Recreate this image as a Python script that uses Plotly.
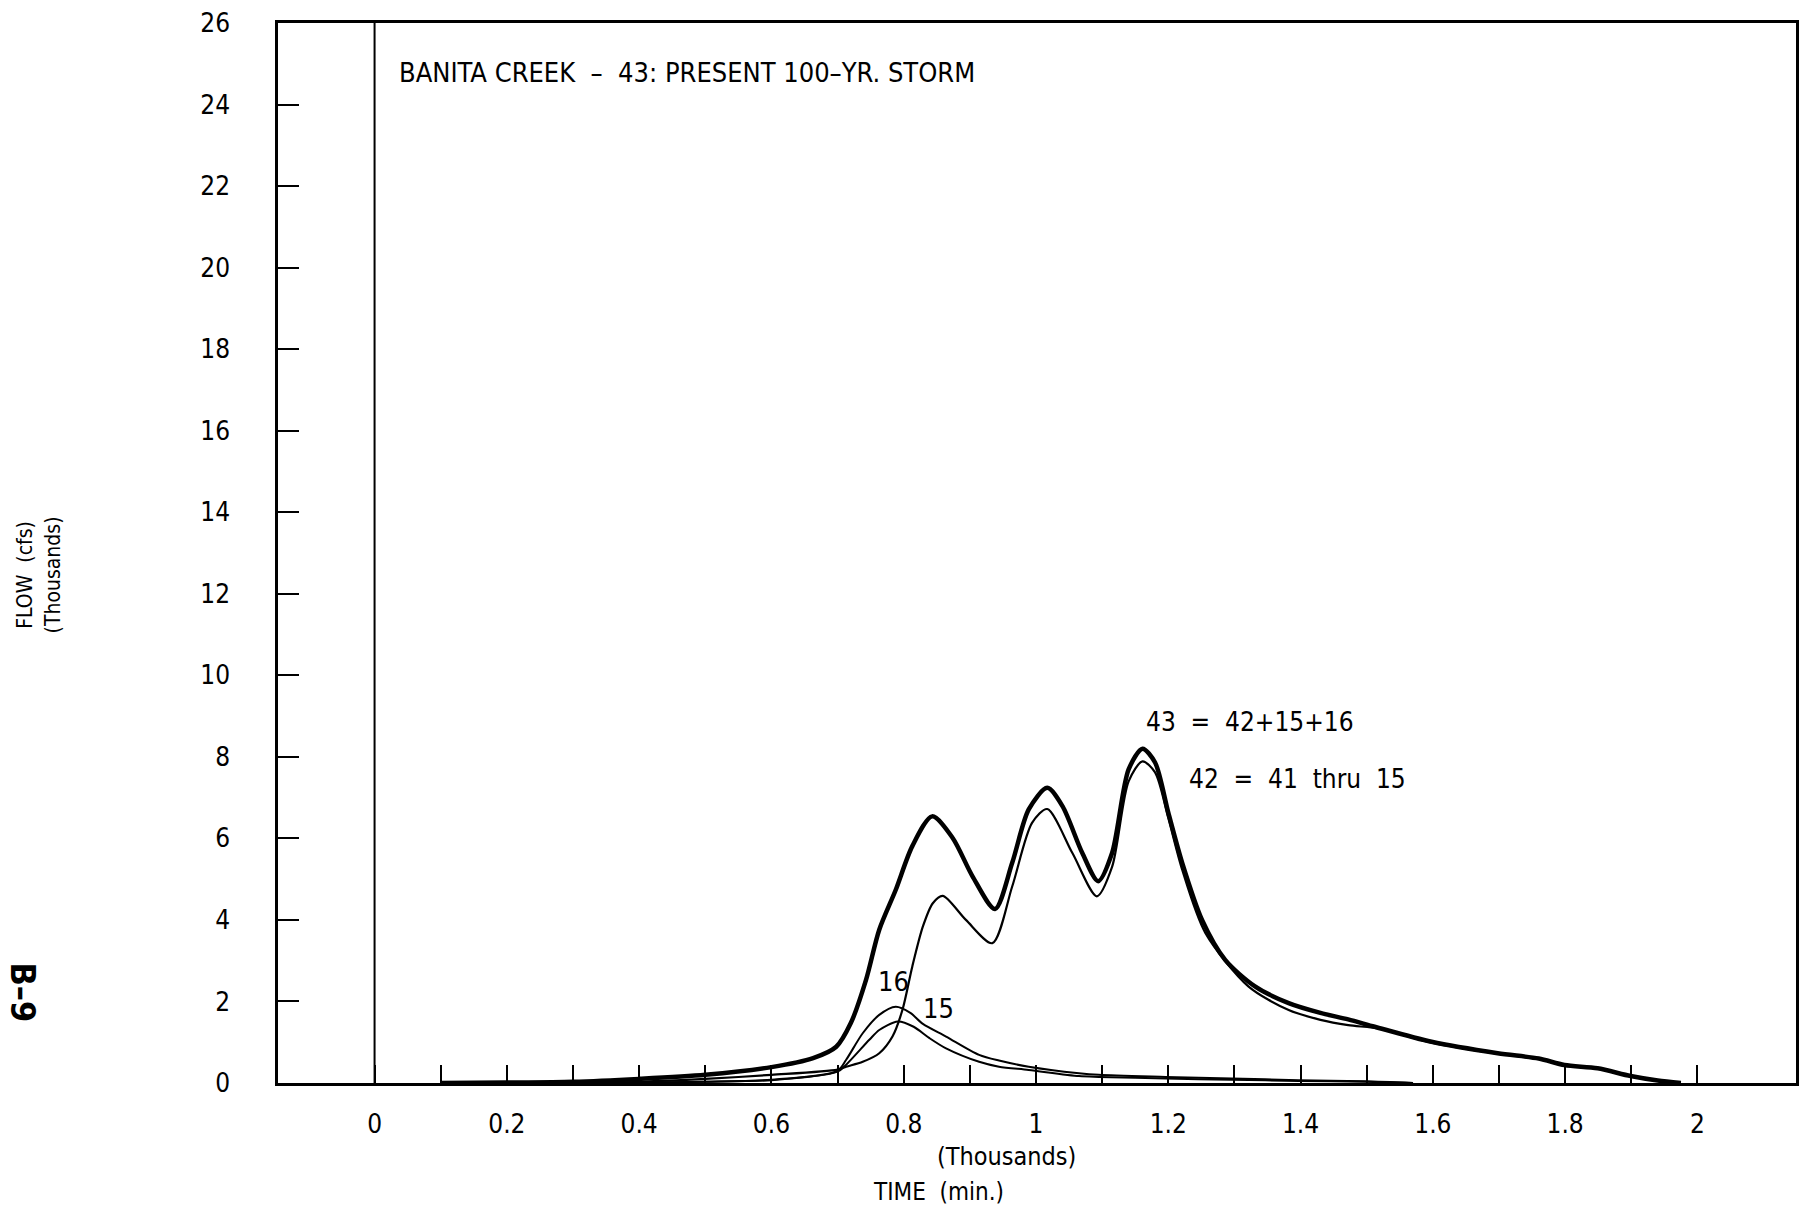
import plotly.graph_objects as go

# ---- data (time in thousands of minutes, flow in thousands of cfs) ----
t43 = [0.10, 0.20, 0.30, 0.40, 0.50, 0.60, 0.663, 0.698, 0.72, 0.743, 0.763, 0.788, 0.813, 0.843,
       0.874, 0.904, 0.938, 0.964, 0.989, 1.017, 1.040, 1.070, 1.094, 1.115, 1.140, 1.161, 1.180,
       1.200, 1.221, 1.251, 1.286, 1.331, 1.382, 1.430, 1.472, 1.512, 1.598, 1.698, 1.760, 1.799,
       1.849, 1.899, 1.940, 1.975]
q43 = [0.0, 0.01, 0.03, 0.10, 0.20, 0.39, 0.61, 0.89, 1.47, 2.53, 3.76, 4.74, 5.81, 6.54,
       6.01, 5.07, 4.27, 5.40, 6.71, 7.24, 6.79, 5.64, 4.95, 5.64, 7.69, 8.20, 7.86,
       6.63, 5.40, 4.00, 3.02, 2.37, 1.96, 1.72, 1.56, 1.38, 1.01, 0.73, 0.60, 0.44,
       0.36, 0.17, 0.06, 0.0]

t42 = [0.30, 0.40, 0.50, 0.60, 0.70, 0.713, 0.738, 0.763, 0.783, 0.798, 0.813, 0.829, 0.844, 0.859,
       0.894, 0.934, 0.964, 0.994, 1.017, 1.055, 1.092, 1.115, 1.140, 1.161, 1.180, 1.200, 1.221,
       1.256, 1.321, 1.382, 1.430, 1.472, 1.520, 1.598, 1.698, 1.760, 1.799, 1.849, 1.899, 1.940, 1.975]
q42 = [0.0, 0.03, 0.10, 0.20, 0.33, 0.40, 0.52, 0.73, 1.14, 1.79, 2.86, 3.84, 4.41, 4.59,
       4.00, 3.43, 4.82, 6.38, 6.72, 5.64, 4.58, 5.30, 7.40, 7.89, 7.62, 6.50, 5.23,
       3.68, 2.37, 1.79, 1.55, 1.42, 1.33, 0.99, 0.72, 0.59, 0.43, 0.35, 0.16, 0.05, 0.0]

t16 = [0.30, 0.40, 0.50, 0.60, 0.70, 0.713, 0.738, 0.763, 0.788, 0.810, 0.829, 0.864, 0.914,
       0.944, 0.989, 1.065, 1.095, 1.196, 1.296, 1.397, 1.497, 1.570]
q16 = [0.0, 0.01, 0.03, 0.08, 0.30, 0.57, 1.22, 1.67, 1.87, 1.72, 1.45, 1.14, 0.69,
       0.55, 0.40, 0.24, 0.20, 0.15, 0.11, 0.07, 0.04, 0.0]

t15 = [0.30, 0.40, 0.50, 0.60, 0.70, 0.713, 0.748, 0.763, 0.791, 0.815, 0.839, 0.864, 0.914,
       0.944, 0.989, 1.065, 1.095, 1.196, 1.296, 1.397, 1.497, 1.570]
q15 = [0.0, 0.01, 0.03, 0.07, 0.28, 0.45, 1.06, 1.30, 1.51, 1.38, 1.10, 0.85, 0.52,
       0.40, 0.32, 0.17, 0.15, 0.11, 0.08, 0.05, 0.03, 0.0]

x_tickvals = [round(i * 0.1, 1) for i in range(0, 21)]
x_ticktext = ["0", "", "0.2", "", "0.4", "", "0.6", "", "0.8", "", "1", "", "1.2", "", "1.4", "",
              "1.6", "", "1.8", "", "2"]
y_tickvals = list(range(0, 27, 2))
y_ticktext = [str(v) for v in y_tickvals]

title_text = "BANITA CREEK  –  43: PRESENT 100–YR. STORM"
label43 = "43  =  42+15+16"
label42 = "42  =  41  thru  15"

# ---- layout geometry (pixels) ----
W, H = 1803, 1214
L, R, T, B = 278, 1799, 23, 1083
XMIN, XMAX = -0.146, 2.149

FONT = "Liberation Sans Narrow, DejaVu Sans Condensed, Arial Narrow, sans-serif"


def px(xp):
    return (xp - L) / (R - L)


def py(yp):
    return (B - yp) / (B - T)


fig = go.Figure()
line_common = dict(color="black", shape="spline", smoothing=0.8)
fig.add_trace(go.Scatter(x=t16, y=q16, mode="lines", line=dict(width=2, **line_common), name="16"))
fig.add_trace(go.Scatter(x=t15, y=q15, mode="lines", line=dict(width=2, **line_common), name="15"))
fig.add_trace(go.Scatter(x=t42, y=q42, mode="lines", line=dict(width=2.2, **line_common), name="42"))
fig.add_trace(go.Scatter(x=t43, y=q43, mode="lines", line=dict(width=4.5, **line_common), name="43"))

# vertical line at time zero
fig.add_shape(type="line", x0=0, x1=0, y0=0, y1=26, xref="x", yref="y",
              line=dict(color="black", width=2))

fig.update_layout(
    width=W, height=H,
    margin=dict(l=L, r=W - R, t=T, b=H - B, pad=0),
    paper_bgcolor="white", plot_bgcolor="white",
    showlegend=False,
    font=dict(family=FONT, color="black", size=26),
)

fig.update_xaxes(
    range=[XMIN, XMAX], showgrid=False, zeroline=False,
    showline=True, linecolor="black", linewidth=2.5, mirror=True,
    tickmode="array", tickvals=x_tickvals, ticktext=x_ticktext,
    ticks="inside", ticklen=18, tickwidth=2, tickcolor="black",
    ticklabelstandoff=16,
    tickfont=dict(family=FONT, size=26, color="black"),
)
fig.update_yaxes(
    range=[0, 26], showgrid=False, zeroline=False,
    showline=True, linecolor="black", linewidth=2.5, mirror=True,
    tickmode="array", tickvals=y_tickvals, ticktext=y_ticktext,
    ticks="inside", ticklen=21, tickwidth=2, tickcolor="black",
    ticklabelstandoff=40,
    tickfont=dict(family=FONT, size=26, color="black"),
)

ann = []
ann.append(dict(text=title_text, xref="paper", yref="paper", x=px(397), y=py(72),
                xanchor="left", yanchor="middle", showarrow=False,
                font=dict(family=FONT, size=27, color="black")))
ann.append(dict(text=label43, xref="paper", yref="paper", x=px(1146), y=py(722),
                xanchor="left", yanchor="middle", showarrow=False,
                font=dict(family=FONT, size=26, color="black")))
ann.append(dict(text=label42, xref="paper", yref="paper", x=px(1189), y=py(779),
                xanchor="left", yanchor="middle", showarrow=False,
                font=dict(family=FONT, size=26, color="black")))
ann.append(dict(text="16", xref="paper", yref="paper", x=px(895), y=py(981),
                xanchor="center", yanchor="middle", showarrow=False,
                font=dict(family=FONT, size=27, color="black")))
ann.append(dict(text="15", xref="paper", yref="paper", x=px(940), y=py(1008),
                xanchor="center", yanchor="middle", showarrow=False,
                font=dict(family=FONT, size=27, color="black")))
ann.append(dict(text="FLOW  (cfs)<br>(Thousands)", xref="paper", yref="paper", x=px(38), y=py(575),
                xanchor="center", yanchor="middle", showarrow=False, textangle=-90,
                font=dict(family=FONT, size=21, color="black")))
ann.append(dict(text="<b>B–9</b>", xref="paper", yref="paper", x=px(22), y=py(992),
                xanchor="center", yanchor="middle", showarrow=False, textangle=90,
                font=dict(family=FONT, size=34, color="black")))
ann.append(dict(text="(Thousands)", xref="paper", yref="paper", x=px(1008), y=py(1156),
                xanchor="center", yanchor="middle", showarrow=False,
                font=dict(family=FONT, size=25, color="black")))
ann.append(dict(text="TIME  (min.)", xref="paper", yref="paper", x=px(940), y=py(1192),
                xanchor="center", yanchor="middle", showarrow=False,
                font=dict(family=FONT, size=24, color="black")))
fig.update_layout(annotations=ann)

fig.write_html("out.html")
